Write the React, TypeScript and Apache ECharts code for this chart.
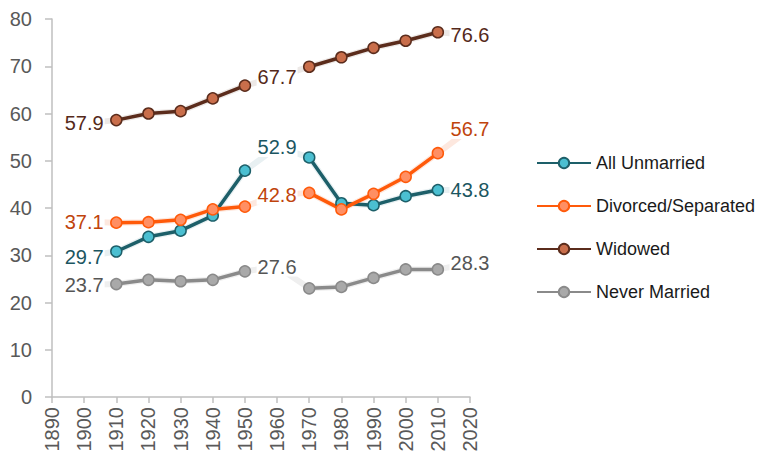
import React, { useEffect, useRef } from "react";
import * as echarts from "echarts";

const mainYears = [1910, 1920, 1930, 1940, 1950, 1960, 1970, 1980, 1990, 2000, 2010];
const fullYears = [1900, 1910, 1920, 1930, 1940, 1950, 1960, 1970, 1980, 1990, 2000, 2010, 2020];
const labelYears = [1900, 1960, 2020];

const seriesNames = ["All Unmarried", "Divorced/Separated", "Widowed", "Never Married"];

// main values (1960 missing)
const allUnmarried = [30.8, 33.9, 35.2, 38.4, 47.9, null, 50.7, 41.0, 40.6, 42.5, 43.8];
const divorced = [36.9, 37.0, 37.5, 39.7, 40.3, null, 43.2, 39.7, 43.0, 46.6, 51.6];
const widowed = [58.6, 60.0, 60.5, 63.2, 65.9, null, 69.9, 71.9, 73.9, 75.4, 77.2];
const neverMarried = [23.9, 24.8, 24.5, 24.8, 26.6, null, 23.0, 23.3, 25.2, 27.0, 27.0];

// labelled values at 1900, 1960, 2020
const allUnmarriedLabels = [29.7, 52.9, 43.8];
const divorcedLabels = [37.1, 42.8, 56.7];
const widowedLabels = [57.9, 67.7, 76.6];
const neverMarriedLabels = [23.7, 27.6, 28.3];

const yTicks = { min: 0, max: 80, interval: 10 };
const xTicks = { min: 1890, max: 2020, interval: 10 };

const styles = [
  { line: "#1d5f69", fill: "#4bbfd1", border: "#1d5f69", faint: "#e8f0f2", label: "#1b5661" },
  { line: "#ff5a0a", fill: "#ff8f63", border: "#ff5a0a", faint: "#fde8df", label: "#c0440c" },
  { line: "#5b2c1c", fill: "#c96e4b", border: "#5b2c1c", faint: "#ede9e7", label: "#55291a" },
  { line: "#8a8a8a", fill: "#a9a9a9", border: "#8a8a8a", faint: "#efefef", label: "#555555" },
];

const mainData = [allUnmarried, divorced, widowed, neverMarried];
const labelData = [allUnmarriedLabels, divorcedLabels, widowedLabels, neverMarriedLabels];

export default function App() {
  const ref = useRef<HTMLDivElement>(null);
  useEffect(() => {
    if (!ref.current) return;
    const chart = echarts.init(ref.current, null, { renderer: "svg" });
    const font = "'Liberation Sans', Arial, sans-serif";
    const series: any[] = [];
    seriesNames.forEach((name, i) => {
      const st = styles[i];
      const main = mainData[i];
      const labs = labelData[i];
      const faint = fullYears.map((yr) => {
        const li = labelYears.indexOf(yr);
        if (li >= 0) return [yr, labs[li]];
        const mi = mainYears.indexOf(yr);
        return [yr, main[mi]];
      });
      series.push({
        name: name + " (trend)",
        type: "line",
        data: faint,
        showSymbol: false,
        symbol: "none",
        lineStyle: { color: st.faint, width: 6 },
        z: 1,
        silent: true,
      });
      series.push({
        name: name + " (labels)",
        type: "scatter",
        data: labelYears.map((yr, k) => [yr, labs[k]]),
        symbol: "circle",
        symbolSize: 1,
        itemStyle: { color: "rgba(255,255,255,0)", opacity: 1 },
        silent: true,
        z: 2,
        label: {
          show: true,
          position: "inside",
          formatter: (p: any) => Number(p.value[1]).toFixed(1),
          color: st.label,
          opacity: 1,
          fontSize: 20,
          fontFamily: font,
          backgroundColor: "#ffffff",
          padding: [0, 1],
        },
        labelLayout: { hideOverlap: false },
      });
      series.push({
        name,
        type: "line",
        data: mainYears.map((yr, k) => [yr, main[k] === null ? "-" : main[k]]),
        symbol: "circle",
        symbolSize: 11,
        showAllSymbol: true,
        itemStyle: { color: st.fill, borderColor: st.border, borderWidth: 1.5 },
        lineStyle: { color: st.line, width: 3.5 },
        z: 3,
      });
    });

    chart.setOption({
      animation: false,
      backgroundColor: "#ffffff",
      grid: { left: 52, right: 298, top: 19, bottom: 59, containLabel: false },
      xAxis: {
        type: "value",
        min: xTicks.min,
        max: xTicks.max,
        interval: xTicks.interval,
        splitLine: { show: false },
        axisLine: { show: true, lineStyle: { color: "#bfbfbf", width: 1.5 } },
        axisTick: { show: true, length: 6, lineStyle: { color: "#bfbfbf", width: 1.5 } },
        axisLabel: {
          rotate: 90,
          margin: 10,
          color: "#595959",
          fontSize: 20,
          fontFamily: font,
          formatter: (v: number) => String(v),
        },
      },
      yAxis: {
        type: "value",
        min: yTicks.min,
        max: yTicks.max,
        interval: yTicks.interval,
        splitLine: { show: false },
        axisLine: { show: true, lineStyle: { color: "#bfbfbf", width: 1.5 } },
        axisTick: { show: true, length: 7, lineStyle: { color: "#bfbfbf", width: 1.5 } },
        axisLabel: { margin: 20, color: "#595959", fontSize: 20, fontFamily: font },
      },
      legend: {
        data: seriesNames,
        orient: "vertical",
        left: 531,
        top: 149,
        itemWidth: 54,
        itemHeight: 13,
        itemGap: 25,
        textStyle: { color: "#1a1a1a", fontSize: 18, fontFamily: font },
      },
      series,
    });
    return () => chart.dispose();
  }, []);
  return (
    <div style={{ position: "fixed", left: 0, top: 0 }}>
      <div ref={ref} style={{ width: 768, height: 456 }} />
    </div>
  );
}
